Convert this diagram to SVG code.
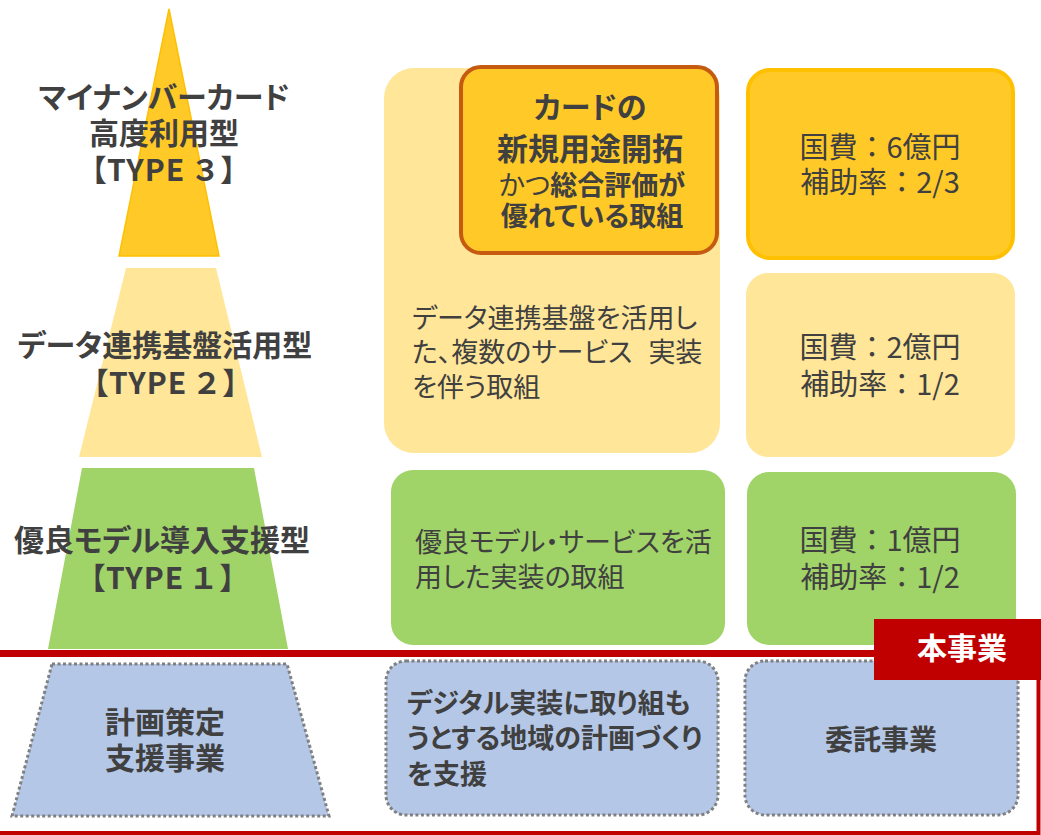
<svg xmlns="http://www.w3.org/2000/svg" width="1041" height="835" viewBox="0 0 1041 835">
<style>
text{font-family:"Noto Sans CJK JP","Noto Sans",sans-serif;fill:#404040;font-feature-settings:"palt";}
.lbl{font-size:30px;font-weight:bold;text-anchor:middle;}
.typ{letter-spacing:1px;}
.body{font-size:27px;}
.bodyb{font-size:27px;font-weight:bold;}
.money{font-size:29px;text-anchor:middle;font-feature-settings:normal;}
.ctr{text-anchor:middle;}
.dash{fill:#B4C7E7;stroke:#808080;stroke-width:3;stroke-dasharray:3 2.5;}
</style>
<rect width="1041" height="835" fill="#FFFFFF"/>

<g id="pyramid-type3">
<polygon points="169,9 219,256 119,256" fill="#FFC928" stroke="#FFC000" stroke-width="1.5"/>
<text class="lbl" x="164" y="108">マイナンバーカード</text>
<text class="lbl" x="164" y="144">高度利用型</text>
<text class="lbl typ" x="164" y="181">【TYPE<tspan dx="8">３</tspan><tspan dx="4">】</tspan></text>
</g>

<g id="pyramid-type2">
<polygon points="126,268 216,268 262,457 79,457" fill="#FFE699"/>
<text class="lbl" x="165" y="356">データ連携基盤活用型</text>
<text class="lbl typ" x="166" y="394">【TYPE<tspan dx="8">２</tspan><tspan dx="4">】</tspan></text>
</g>

<g id="pyramid-type1">
<polygon points="82,468 254,468 288,649 48,649" fill="#A0D468"/>
<text class="lbl" x="162" y="551">優良モデル導入支援型</text>
<text class="lbl typ" x="163" y="589">【TYPE<tspan dx="8">１</tspan><tspan dx="4">】</tspan></text>
</g>

<g id="pyramid-plan">
<polygon points="52,664 287,664 329,816 12,816" class="dash"/>
<text class="lbl" x="165" y="733">計画策定</text>
<text class="lbl" x="165" y="769">支援事業</text>
</g>

<g id="connectors">
<line x1="0" y1="653.5" x2="1041" y2="653.5" stroke="#C00000" stroke-width="7"/>
<polyline points="0,833 1038.5,833 1038.5,660" fill="none" stroke="#C00000" stroke-width="4"/>
</g>

<g id="type2-desc">
<rect x="384" y="68" width="336" height="385" rx="30" fill="#FFE699"/>
<text class="body" x="412" y="328">データ連携基盤を活用し</text>
<text class="body" x="412" y="362">た、複数のサービス<tspan dx="16">実装</tspan></text>
<text class="body" x="412" y="397">を伴う取組</text>
</g>

<g id="type3-desc">
<rect x="461" y="67" width="256" height="186" rx="20" fill="#FFC928" stroke="#C55A11" stroke-width="4"/>
<text class="ctr" x="590" y="118" style="font-size:30px;font-weight:bold">カードの</text>
<text class="ctr" x="590" y="160" style="font-size:31px;font-weight:bold">新規用途開拓</text>
<text class="ctr" x="592" y="195" style="font-size:27px">かつ<tspan font-weight="bold">総合評価が</tspan></text>
<text class="ctr" x="592" y="226" style="font-size:27px;font-weight:bold">優れている取組</text>
</g>

<g id="type3-budget">
<rect x="748" y="70" width="265" height="188" rx="22" fill="#FFC928" stroke="#FFC000" stroke-width="4"/>
<text class="money" x="880" y="158">国費：6億円</text>
<text class="money" x="880" y="193">補助率：2/3</text>
</g>

<g id="type2-budget">
<rect x="746" y="273" width="269" height="184" rx="22" fill="#FFE699"/>
<text class="money" x="880" y="358">国費：2億円</text>
<text class="money" x="880" y="395">補助率：1/2</text>
</g>

<g id="type1-desc">
<rect x="391" y="470" width="334" height="175" rx="22" fill="#A0D468"/>
<text class="body" x="415" y="552">優良モデル・サービスを活</text>
<text class="body" x="415" y="587">用した実装の取組</text>
</g>

<g id="type1-budget">
<rect x="747" y="472" width="269" height="173" rx="22" fill="#A0D468"/>
<text class="money" x="880" y="551">国費：1億円</text>
<text class="money" x="880" y="588">補助率：1/2</text>
</g>

<g id="plan-desc">
<rect x="386" y="661" width="332" height="154" rx="20" class="dash"/>
<text class="bodyb" x="407" y="713">デジタル実装に取り組も</text>
<text class="bodyb" x="407" y="748">うとする地域の計画づくり</text>
<text class="bodyb" x="407" y="784">を支援</text>
</g>

<g id="plan-type">
<rect x="745" y="661" width="273" height="154" rx="20" class="dash"/>
<text class="ctr" x="881" y="750" style="font-size:28px;font-weight:bold">委託事業</text>
</g>

<g id="honjigyo">
<rect x="874" y="619" width="167" height="61" fill="#C00000"/>
<text class="ctr" x="962" y="659" style="font-size:30px;font-weight:bold;fill:#FFFFFF">本事業</text>
</g>
</svg>
